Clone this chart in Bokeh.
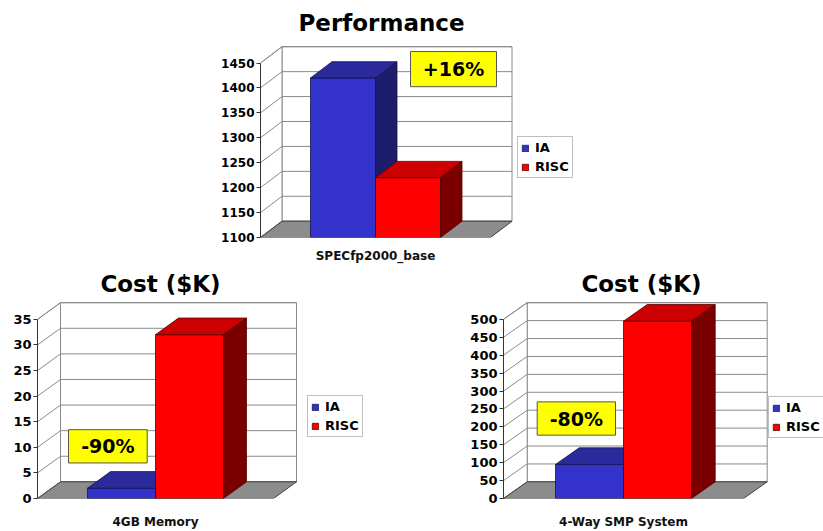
from bokeh.plotting import figure
from bokeh.layouts import column, row
from bokeh.models import Range1d, FixedTicker, Legend, LegendItem
from bokeh.embed import file_html
from bokeh.resources import INLINE
from bokeh.core.properties import value

# ---------------- data ----------------
series = ["IA", "RISC"]

perf_title = "Performance"
perf_category = "SPECfp2000_base"
perf_values = [1420, 1220]
perf_ticks = [1100, 1150, 1200, 1250, 1300, 1350, 1400, 1450]
perf_note = "+16%"

mem_title = "Cost ($K)"
mem_category = "4GB Memory"
mem_values = [2, 32]
mem_ticks = [0, 5, 10, 15, 20, 25, 30, 35]
mem_note = "-90%"

smp_title = "Cost ($K)"
smp_category = "4-Way SMP System"
smp_values = [95, 495]
smp_ticks = [0, 50, 100, 150, 200, 250, 300, 350, 400, 450, 500]
smp_note = "-80%"

# ---------------- style ----------------
FONT = "DejaVu Sans"
FRONT = {"IA": "#3333cc", "RISC": "#ff0000"}
TOP = {"IA": "#2a2a9c", "RISC": "#cc0000"}
SIDE = {"IA": "#1d1d6b", "RISC": "#7a0000"}
EDGE = {"IA": "#141450", "RISC": "#550000"}
GRID = "#8a8a8a"
FLOOR = "#8c8c8c"


def make_chart(title, category, vals, ticks, note, g):
    ymin, ymax = ticks[0], ticks[-1]
    s = g["tick_px"] / (ymax - ymin)          # px per data unit
    fw = g["width"] - g["left"]
    fh = g["frame_h"]
    p = figure(width=g["width"], height=g["height"], output_backend="svg",
               toolbar_location=None,
               x_range=Range1d(0, fw), y_range=Range1d(ymin, ymin + fh / s),
               min_border_left=g["left"], min_border_right=0,
               min_border_top=0, min_border_bottom=g["height"] - fh)
    p.outline_line_color = None
    p.grid.visible = False
    p.background_fill_color = "white"
    p.border_fill_color = "white"

    def Y(px):
        return ymin + px / s

    W = g["W"]
    dx = g["dx"]
    dy = g["dy"] / s

    # y axis
    ax = p.yaxis[0]
    ax.ticker = FixedTicker(ticks=ticks)
    ax.bounds = (ymin, ymax)
    ax.major_tick_out = 4
    ax.major_tick_in = 0
    ax.minor_tick_line_color = None
    ax.major_label_standoff = 2
    ax.major_label_text_font = FONT
    ax.major_label_text_font_style = "bold"
    ax.major_label_text_font_size = g["tick_fs"]
    ax.major_label_text_color = "black"
    ax.axis_line_color = "#333333"
    ax.major_tick_line_color = "#333333"

    # x axis (category label)
    xa = p.xaxis[0]
    cx = W // 2
    xa.ticker = FixedTicker(ticks=[cx])
    xa.major_label_overrides = {cx: category}
    xa.axis_line_color = None
    xa.major_tick_line_color = None
    xa.minor_tick_line_color = None
    xa.major_label_standoff = g["cat_standoff"]
    xa.major_label_text_font = FONT
    xa.major_label_text_font_style = "bold"
    xa.major_label_text_font_size = "12px"
    xa.major_label_text_color = "#111111"

    # walls
    p.quad(left=[dx], right=[dx + W], bottom=[ymin + dy], top=[ymax + dy],
           fill_color="white", line_color=GRID, line_width=1)
    p.patch([0, dx, dx, 0], [ymin, ymin + dy, ymax + dy, ymax],
            fill_color="white", line_color=GRID, line_width=1)
    p.segment(x0=[dx] * len(ticks), y0=[t + dy for t in ticks],
              x1=[dx + W] * len(ticks), y1=[t + dy for t in ticks],
              line_color=GRID, line_width=1)
    p.segment(x0=[0] * len(ticks), y0=ticks,
              x1=[dx] * len(ticks), y1=[t + dy for t in ticks],
              line_color=GRID, line_width=1)
    # floor
    p.patch([0, W, W + dx, dx], [ymin, ymin, ymin + dy, ymin + dy],
            fill_color=FLOOR, line_color="#404040", line_width=1)

    # bars
    bw = g["bar_w"]
    renderers = {}
    for i, (name, v) in enumerate(zip(series, vals)):
        x0 = cx - bw + i * bw
        x1 = x0 + bw
        r = p.quad(left=[x0], right=[x1], bottom=[ymin], top=[v],
                   fill_color=FRONT[name], line_color=EDGE[name], line_width=0.8)
        renderers[name] = r
        p.patch([x0, x1, x1 + dx, x0 + dx], [v, v, v + dy, v + dy],
                fill_color=TOP[name], line_color=EDGE[name], line_width=0.8)
        p.patch([x1, x1 + dx, x1 + dx, x1], [ymin, ymin + dy, v + dy, v],
                fill_color=SIDE[name], line_color=EDGE[name], line_width=0.8)

    # note box
    nx0, ny0, nx1, ny1 = g["note_box"]
    p.quad(left=[nx0], right=[nx1], bottom=[Y(ny0)], top=[Y(ny1)],
           fill_color="#ffff00", line_color="#555555", line_width=1)
    p.text(x=[(nx0 + nx1) / 2], y=[Y((ny0 + ny1) / 2)], text=[note],
           text_font=value(FONT), text_font_style="bold",
           text_font_size=g["note_fs"], text_align="center",
           text_baseline="middle", text_color="black")

    # title
    tx, ty = g["title_pos"]
    p.text(x=[tx], y=[Y(ty)], text=[title], text_font=value(FONT),
           text_font_style="bold", text_font_size=g["title_fs"],
           text_align="center", text_baseline="middle", text_color="black")

    # legend
    leg = Legend(items=[LegendItem(label=n, renderers=[renderers[n]]) for n in series],
                 location=g["legend_loc"])
    leg.border_line_color = "#808080"
    leg.border_line_width = 1
    leg.background_fill_color = "white"
    leg.background_fill_alpha = 1
    leg.label_text_font = FONT
    leg.label_text_font_style = "bold"
    leg.label_text_font_size = "13px"
    leg.label_text_color = "black"
    leg.glyph_width = 8
    leg.glyph_height = 8
    leg.label_height = 15
    leg.spacing = 4
    leg.padding = 3
    leg.margin = 0
    leg.label_standoff = 6
    p.add_layout(leg)
    return p


p_top = make_chart(perf_title, perf_category, perf_values, perf_ticks, perf_note, dict(
    width=823, height=265, left=260, frame_h=240, tick_px=176.7,
    W=230, dx=21.5, dy=16.5, bar_w=65, tick_fs="12px", cat_standoff=5,
    note_box=(150, 152.7, 236, 188.3), note_fs="19px",
    title_pos=(121, 217.5), title_fs="23px", legend_loc=(257, 59)))

p_mem = make_chart(mem_title, mem_category, mem_values, mem_ticks, mem_note, dict(
    width=440, height=266, left=37, frame_h=238, tick_px=183,
    W=236, dx=23, dy=17, bar_w=68, tick_fs="13px", cat_standoff=10,
    note_box=(31, 36.3, 109.7, 70.3), note_fs="19px",
    title_pos=(123, 219), title_fs="23px", legend_loc=(270, 61)))

p_smp = make_chart(smp_title, smp_category, smp_values, smp_ticks, smp_note, dict(
    width=383, height=266, left=63, frame_h=238, tick_px=183,
    W=240, dx=23.7, dy=17, bar_w=68, tick_fs="13px", cat_standoff=10,
    note_box=(33.7, 64.7, 112, 98.7), note_fs="19px",
    title_pos=(138, 219), title_fs="23px", legend_loc=(265, 60)))

layout = column(p_top, row(p_mem, p_smp, spacing=0), spacing=0)
open("out.html", "w").write(file_html(layout, INLINE))
